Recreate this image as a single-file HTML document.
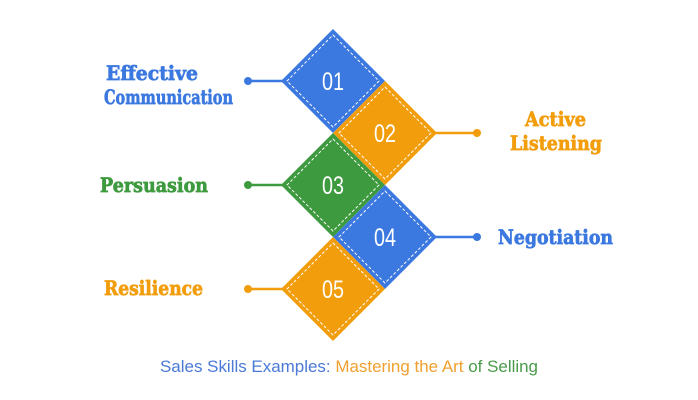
<!DOCTYPE html>
<html><head><style>
html,body{margin:0;padding:0;background:#fff;width:698px;height:400px;overflow:hidden}
</style></head><body>
<svg width="698" height="400" viewBox="0 0 698 400" xmlns="http://www.w3.org/2000/svg">
<g stroke-width="2.5">
<line x1="248" y1="81" x2="284" y2="81" stroke="#3b78e0"/><circle cx="248" cy="81" r="4" fill="#3b78e0"/>
<line x1="434" y1="133" x2="477" y2="133" stroke="#f29d0c"/><circle cx="477" cy="133" r="4" fill="#f29d0c"/>
<line x1="248" y1="185" x2="284" y2="185" stroke="#3e9a3e"/><circle cx="248" cy="185" r="4" fill="#3e9a3e"/>
<line x1="434" y1="237" x2="477" y2="237" stroke="#3b78e0"/><circle cx="477" cy="237" r="4" fill="#3b78e0"/>
<line x1="248" y1="289" x2="284" y2="289" stroke="#f29d0c"/><circle cx="248" cy="289" r="4" fill="#f29d0c"/>
</g>
<g stroke="#fff" stroke-width="1" stroke-dasharray="3,2">
<polygon points="333,29 385,81 333,133 281,81" fill="#3b78e0" stroke="none"/>
<polygon points="333,35 379,81 333,127 287,81" fill="none"/>
<polygon points="385,81 437,133 385,185 333,133" fill="#f29d0c" stroke="none"/>
<polygon points="385,87 431,133 385,179 339,133" fill="none"/>
<polygon points="333,133 385,185 333,237 281,185" fill="#3e9a3e" stroke="none"/>
<polygon points="333,139 379,185 333,231 287,185" fill="none"/>
<polygon points="385,185 437,237 385,289 333,237" fill="#3b78e0" stroke="none"/>
<polygon points="385,191 431,237 385,283 339,237" fill="none"/>
<polygon points="333,237 385,289 333,341 281,289" fill="#f29d0c" stroke="none"/>
<polygon points="333,243 379,289 333,335 287,289" fill="none"/>
</g>
<g fill="#fff" font-family="Liberation Sans, sans-serif" font-size="25" text-anchor="middle">
<text x="333" y="90" textLength="22" lengthAdjust="spacingAndGlyphs">01</text>
<text x="385" y="142" textLength="22" lengthAdjust="spacingAndGlyphs">02</text>
<text x="333" y="194" textLength="22" lengthAdjust="spacingAndGlyphs">03</text>
<text x="385" y="246" textLength="22" lengthAdjust="spacingAndGlyphs">04</text>
<text x="333" y="298" textLength="22" lengthAdjust="spacingAndGlyphs">05</text>
</g>
<g font-family="DejaVu Serif, serif" font-weight="bold" font-size="20" stroke-width="0.7">
<text x="106" y="80" fill="#3b78e0" stroke="#3b78e0" textLength="92" lengthAdjust="spacingAndGlyphs">Effective</text>
<text x="104" y="104" fill="#3b78e0" stroke="#3b78e0" textLength="129" lengthAdjust="spacingAndGlyphs">Communication</text>
<text x="525" y="126" fill="#f29d0c" stroke="#f29d0c" textLength="61" lengthAdjust="spacingAndGlyphs">Active</text>
<text x="510" y="150" fill="#f29d0c" stroke="#f29d0c" textLength="92" lengthAdjust="spacingAndGlyphs">Listening</text>
<text x="100" y="192" fill="#3e9a3e" stroke="#3e9a3e" textLength="108" lengthAdjust="spacingAndGlyphs">Persuasion</text>
<text x="498" y="244" fill="#3b78e0" stroke="#3b78e0" textLength="115" lengthAdjust="spacingAndGlyphs">Negotiation</text>
<text x="104" y="295" fill="#f29d0c" stroke="#f29d0c" textLength="99" lengthAdjust="spacingAndGlyphs">Resilience</text>
</g>
<text x="160" y="372" font-family="Liberation Sans, sans-serif" font-size="17" textLength="378" lengthAdjust="spacingAndGlyphs"><tspan fill="#4a79d8">Sales Skills Examples: </tspan><tspan fill="#f0a030">Mastering the Art </tspan><tspan fill="#4a9a4a">of Selling</tspan></text>
</svg>
</body></html>
